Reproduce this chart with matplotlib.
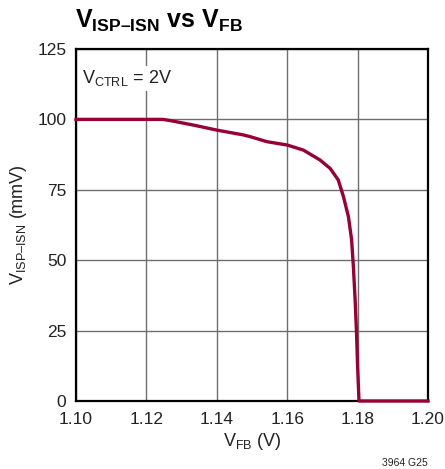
import matplotlib
matplotlib.use("Agg")
import matplotlib.pyplot as plt
from matplotlib import font_manager

names = {f.name for f in font_manager.fontManager.ttflist}
fam = 'Liberation Sans Narrow' if 'Liberation Sans Narrow' in names else 'Liberation Sans'
plt.rcParams['font.family'] = [fam, 'DejaVu Sans']
plt.rcParams['mathtext.fontset'] = 'custom'
plt.rcParams['mathtext.rm'] = fam
plt.rcParams['mathtext.it'] = fam
plt.rcParams['mathtext.bf'] = fam + ':bold'

vfb = [1.100, 1.110, 1.120, 1.1247, 1.1267, 1.1333, 1.1400, 1.1475, 1.1494, 1.1542,
       1.1600, 1.1646, 1.1693, 1.1722, 1.1745, 1.1760, 1.1774, 1.1783, 1.1788,
       1.1793, 1.1797, 1.1800, 1.1804, 1.190, 1.200]
visp = [100.0, 100.0, 100.0, 100.0, 99.6, 98.0, 96.2, 94.5, 93.9, 92.1,
        90.9, 89.1, 85.6, 82.6, 78.5, 72.5, 65.4, 57.2, 47.7,
        35.9, 24.0, 12.2, 0.0, 0.0, 0.0]
xticks = [1.10, 1.12, 1.14, 1.16, 1.18, 1.20]
yticks = [0, 25, 50, 75, 100, 125]

fig = plt.figure(figsize=(4.45, 4.69), dpi=100)
ax = fig.add_axes([76/445, 1-401/469, (428-76)/445, (401-49)/469])
ax.plot(vfb, visp, color='#990033', lw=2.4, solid_joinstyle='round', zorder=3, clip_on=False)
ax.set_xlim(1.10, 1.20)
ax.set_ylim(0, 125)
ax.set_xticks(xticks)
ax.set_xticklabels([f"{t:.2f}" for t in xticks])
ax.set_yticks(yticks)
ax.grid(True, color='#6e6e6e', lw=1.0)
ax.set_axisbelow(True)
for s in ax.spines.values():
    s.set_color('black')
    s.set_linewidth(1.6)
ax.tick_params(length=0, labelsize=12.5, colors='#222222')
ax.tick_params(axis='x', pad=8)
ax.tick_params(axis='y', pad=7)
ax.set_xlabel(r'$\mathregular{V_{FB}}$ (V)', fontsize=13, color='#222222', labelpad=3)
ax.set_ylabel(r'$\mathregular{V_{ISP–ISN}}$ (mmV)', fontsize=13, color='#222222', labelpad=6)
ax.text(0.018, 0.945, r'$\mathregular{V_{CTRL}}$ = 2V', transform=ax.transAxes, fontsize=13,
        va='top', ha='left', color='#222222',
        bbox=dict(facecolor='white', edgecolor='none', pad=2), zorder=4)
fig.text(75/445, 1-21/469, r'$\mathbf{V_{ISP–ISN}}$ vs $\mathbf{V_{FB}}$', fontsize=18,
         fontweight='bold', va='center', ha='left', color='black')
fig.text(405/445, 1-463/469, '3964 G25', fontsize=7.5, ha='center', va='center', color='#222222')
fig.savefig('out.png', dpi=100)
